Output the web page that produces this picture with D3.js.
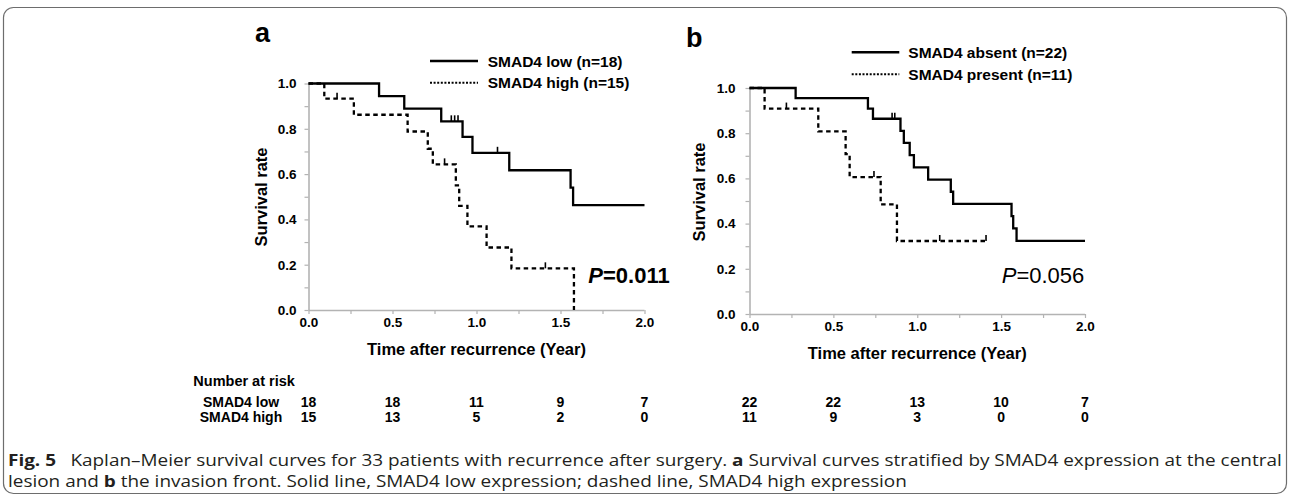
<!DOCTYPE html>
<html><head><meta charset="utf-8">
<script src="https://cdn.jsdelivr.net/npm/d3@7"></script>
<style>
html,body{margin:0;padding:0;background:#fff;}
svg{display:block;}
text{font-family:"Liberation Sans",Arial,sans-serif;}
</style></head>
<body>
<svg id="chart" width="1290" height="497"></svg>
<script>
// ---------- DATA ----------
// Panel a: SMAD4 at central lesion
const aLowTimes  = [0, 0.42, 0.57, 0.79, 0.917, 0.976, 1.195, 1.56, 1.575, 2.0];
const aLowSurv   = [1, 0.944, 0.889, 0.833, 0.764, 0.694, 0.617, 0.54, 0.463, 0.463];
const aLowCensT  = [0.85, 0.87, 0.89, 1.125];
const aLowCensS  = [0.833, 0.833, 0.833, 0.694];
const aHighTimes = [0, 0.094, 0.27, 0.59, 0.71, 0.74, 0.877, 0.897, 0.946, 1.06, 1.208, 1.58, 1.58];
const aHighSurv  = [1, 0.933, 0.862, 0.788, 0.712, 0.643, 0.55, 0.46, 0.369, 0.276, 0.184, 0.0, 0.0];
const aHighCensT = [0.17, 0.81, 1.41];
const aHighCensS = [0.933, 0.643, 0.184];
// Panel b: SMAD4 at invasion front
const bAbsTimes  = [0, 0.275, 0.706, 0.736, 0.9, 0.92, 0.955, 0.98, 1.065, 1.2, 1.214, 1.562, 1.572, 1.592, 2.0];
const bAbsSurv   = [1, 0.955, 0.909, 0.864, 0.81, 0.757, 0.703, 0.649, 0.595, 0.541, 0.487, 0.433, 0.379, 0.324, 0.324];
const bAbsCensT  = [0.85, 0.866];
const bAbsCensS  = [0.864, 0.864];
const bPresTimes = [0, 0.09, 0.41, 0.573, 0.597, 0.782, 0.879, 1.41];
const bPresSurv  = [1, 0.909, 0.808, 0.707, 0.606, 0.485, 0.323, 0.323];
const bPresCensT = [0.22, 0.742, 1.134, 1.41];
const bPresCensS = [0.909, 0.606, 0.323, 0.323];

const xTicks = [0, 0.25, 0.5, 0.75, 1.0, 1.25, 1.5, 1.75, 2.0];
const yTicks = [0, 0.1, 0.2, 0.3, 0.4, 0.5, 0.6, 0.7, 0.8, 0.9, 1.0];
const riskTimes = [0, 0.5, 1.0, 1.5, 2.0];
const riskGroups = ["SMAD4 low", "SMAD4 high"];
const riskA1 = [18, 18, 11, 9, 7];
const riskA2 = [15, 13, 5, 2, 0];
const riskB1 = [22, 22, 13, 10, 7];
const riskB2 = [11, 9, 3, 0, 0];
const legendA = ["SMAD4 low (n=18)", "SMAD4 high (n=15)"];
const legendB = ["SMAD4 absent (n=22)", "SMAD4 present (n=11)"];
const captionLine1 = [["Fig. 5",true],["\u2002 Kaplan\u2013Meier survival curves for 33 patients with recurrence after surgery. ",false],["a",true],[" Survival curves stratified by SMAD4 expression at the central",false]];
const captionLine2 = [["lesion and ",false],["b",true],[" the invasion front. Solid line, SMAD4 low expression; dashed line, SMAD4 high expression",false]];

// ---------- DRAW ----------
const svg = d3.select("#chart");
svg.append("rect").attr("width",1290).attr("height",497).attr("fill","#fff");
svg.append("rect").attr("x",3.5).attr("y",7.5).attr("width",1283).attr("height",486)
   .attr("rx",10).attr("fill","none").attr("stroke","#6d6d6d").attr("stroke-width",1.2);

function panel(cfg){
  const x = d3.scaleLinear().domain([0,2]).range(cfg.xr);
  const y = d3.scaleLinear().domain([0,1]).range(cfg.yr);
  const g = svg.append("g");
  const ax = g.append("g").attr("transform",`translate(0,${cfg.yr[0]})`)
    .call(d3.axisBottom(x).tickValues(xTicks).tickSize(4).tickPadding(3)
      .tickFormat(d => (Math.abs(d*2 - Math.round(d*2))<1e-6) ? d3.format(".1f")(d) : ""));
  const ay = g.append("g").attr("transform",`translate(${cfg.xr[0]},0)`)
    .call(d3.axisLeft(y).tickValues(yTicks).tickSize(4).tickPadding(cfg.ypad)
      .tickFormat(d => (Math.abs(d*5 - Math.round(d*5))<1e-6) ? d3.format(".1f")(d) : ""));
  [ax, ay].forEach(a => {
    a.select(".domain").attr("stroke","#b3b3b3").attr("stroke-width",1.6);
    a.selectAll(".tick line").attr("stroke","#b3b3b3").attr("stroke-width",1.2);
    a.selectAll(".tick text").attr("fill","#000").attr("font-size","13.5px").attr("font-weight","bold")
      .style("font-family",'"Liberation Sans",Arial,sans-serif');
  });
  ay.select(".domain").attr("d",`M0.5,${cfg.yr[1]}V${cfg.yr[0]}`);
  ax.select(".domain").attr("d",`M${cfg.xr[0]},0.5H${cfg.xr[1]}`);
  g.append("text").attr("x",(cfg.xr[0]+cfg.xr[1])/2).attr("y",cfg.yr[0]+45)
    .attr("text-anchor","middle").attr("font-size","16.5px").attr("font-weight","bold")
    .text("Time after recurrence (Year)");
  g.append("text").attr("transform",`translate(${cfg.ytx},${cfg.yty}) rotate(-90)`)
    .attr("text-anchor","middle").attr("dominant-baseline","central")
    .attr("font-size","16.5px").attr("font-weight","bold").text("Survival rate");
  const line = d3.line().x(d=>x(d[0])).y(d=>y(d[1])).curve(d3.curveStepAfter);
  cfg.series.forEach(s => {
    const pts = s.t.map((t,i)=>[t, s.s[i]]);
    g.append("path").datum(pts).attr("d",line).attr("fill","none")
      .attr("stroke","#000").attr("stroke-width",2.3)
      .attr("stroke-dasharray", s.dash ? "4.5,3.5" : null);
    g.selectAll(null).data(s.ct.map((t,i)=>[t, s.cs[i]])).enter().append("line")
      .attr("x1",d=>x(d[0])).attr("x2",d=>x(d[0]))
      .attr("y1",d=>y(d[1])).attr("y2",d=>y(d[1])-6)
      .attr("stroke","#000").attr("stroke-width",1.6);
  });
  cfg.legend.forEach((L,i) => {
    const ly = cfg.leg.y + i*cfg.leg.dy;
    g.append("line").attr("x1",cfg.leg.x1).attr("x2",cfg.leg.x2).attr("y1",ly).attr("y2",ly)
      .attr("stroke","#000").attr("stroke-width",i===0?2.6:2)
      .attr("stroke-dasharray", i===0?null:"2,1.6");
    g.append("text").attr("x",cfg.leg.tx).attr("y",ly+5.6).attr("font-size","15.5px")
      .attr("font-weight","bold").text(L);
  });
  g.append("text").attr("x",cfg.lab.x).attr("y",cfg.lab.y).attr("font-size","27px")
    .attr("font-weight","bold").text(cfg.lab.t);
  const pt = g.append("text").attr("x",cfg.p.x).attr("y",cfg.p.y).attr("font-size","22px")
    .attr("font-weight",cfg.p.bold?"bold":"normal");
  pt.append("tspan").attr("font-style","italic").text("P");
  pt.append("tspan").text(cfg.p.t);
  [cfg.r1, cfg.r2].forEach((arr,k) => {
    g.selectAll(null).data(arr).enter().append("text")
      .attr("x",(d,i)=>x(riskTimes[i])).attr("y",[407,422][k])
      .attr("text-anchor","middle").attr("font-size","14px").attr("font-weight","bold")
      .text(d=>d);
  });
}

panel({xr:[308.5,644.5], yr:[310,83.5], ypad:8, ytx:261, yty:197,
  series:[
    {t:aLowTimes, s:aLowSurv, ct:aLowCensT, cs:aLowCensS, dash:false},
    {t:aHighTimes, s:aHighSurv, ct:aHighCensT, cs:aHighCensS, dash:true}],
  legend:legendA, leg:{x1:430,x2:478,y:61,dy:21.7,tx:487.7},
  lab:{x:255,y:42,t:"a"}, p:{x:588.3,y:282.7,t:"=0.011",bold:true},
  r1:riskA1, r2:riskA2});

panel({xr:[749.5,1085], yr:[314,88], ypad:10, ytx:699, yty:192,
  series:[
    {t:bAbsTimes, s:bAbsSurv, ct:bAbsCensT, cs:bAbsCensS, dash:false},
    {t:bPresTimes, s:bPresSurv, ct:bPresCensT, cs:bPresCensS, dash:true}],
  legend:legendB, leg:{x1:851.7,x2:899.3,y:52.3,dy:22,tx:908.3},
  lab:{x:686,y:47,t:"b"}, p:{x:1001.7,y:283.3,t:"=0.056",bold:false},
  r1:riskB1, r2:riskB2});

svg.append("text").attr("x",193.3).attr("y",385.5).attr("font-size","14.5px")
  .attr("font-weight","bold").text("Number at risk");
riskGroups.forEach((r,i)=>{
  svg.append("text").attr("x",241).attr("y",[407,422][i]).attr("text-anchor","middle")
    .attr("font-size","14px").attr("font-weight","bold").text(r);
});

// caption: first line fitted to the frame width, same glyph scale for second line
const capFont = '"Open Sans","Noto Sans",sans-serif';
function capText(parts){
  const t = svg.append("text").attr("font-size","15.5px").attr("fill","#231f20")
    .style("font-family",capFont).attr("xml:space","preserve").style("white-space","pre");
  parts.forEach(p => t.append("tspan").attr("font-weight",p[1]?"bold":"normal").text(p[0]));
  return t;
}
const c1 = capText(captionLine1);
const sc = 1275 / c1.node().getComputedTextLength();
c1.attr("transform",`translate(8,466) scale(${sc},1)`);
const c2 = capText(captionLine2);
c2.attr("transform",`translate(8,487) scale(${sc},1)`);
</script>
</body></html>
